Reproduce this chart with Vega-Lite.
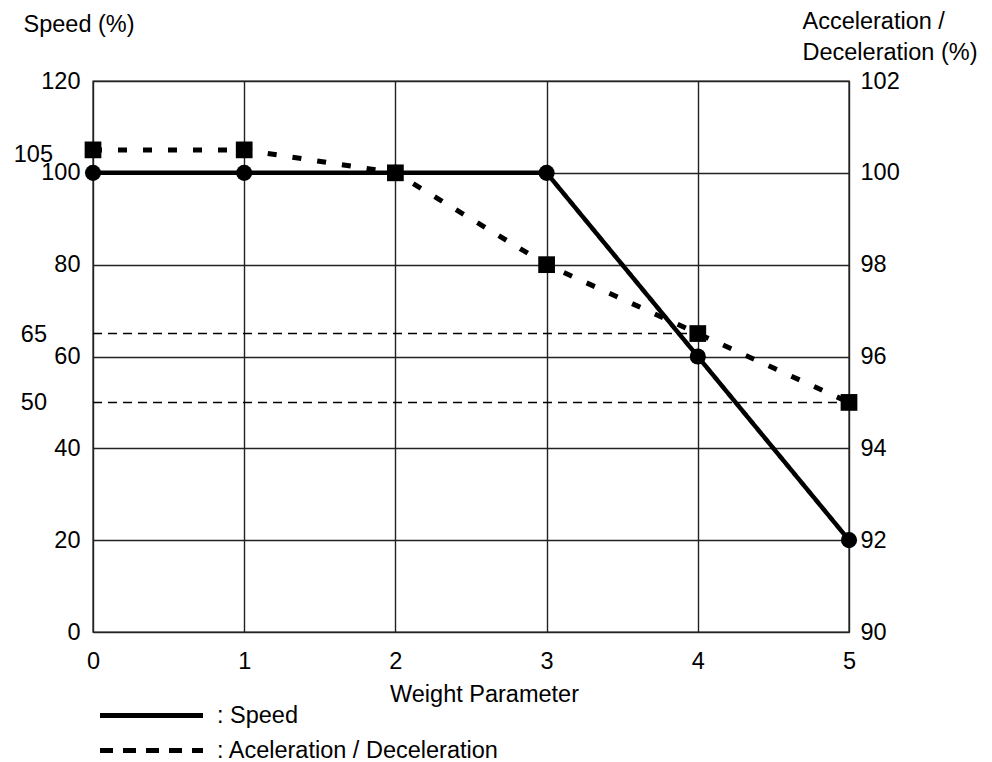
{
  "$schema": "https://vega.github.io/schema/vega-lite/v6.json",
  "width": 756,
  "height": 551,
  "autosize": {"type": "none"},
  "padding": {"left": 93, "top": 81, "right": 143, "bottom": 130},
  "background": "white",
  "config": {
    "font": "Liberation Sans",
    "view": {"stroke": "#222", "strokeWidth": 1.4},
    "axis": {
      "labelFont": "Liberation Sans",
      "labelFontSize": 23.5,
      "labelColor": "black",
      "titleFont": "Liberation Sans",
      "titleFontSize": 23.5,
      "titleFontWeight": "normal",
      "titleColor": "black",
      "ticks": false,
      "tickSize": 0,
      "domain": false,
      "gridColor": "#222",
      "gridOpacity": 1,
      "gridWidth": 1.4,
      "labelFlush": false,
      "labelOverlap": false
    },
    "line": {"strokeCap": "butt"}
  },
  "datasets": {
    "speed": [
      {"w": 0, "value": 100},
      {"w": 1, "value": 100},
      {"w": 2, "value": 100},
      {"w": 3, "value": 100},
      {"w": 4, "value": 60},
      {"w": 5, "value": 20}
    ],
    "accel": [
      {"w": 0, "value": 100.5},
      {"w": 1, "value": 100.5},
      {"w": 2, "value": 100},
      {"w": 3, "value": 98},
      {"w": 4, "value": 96.5},
      {"w": 5, "value": 95}
    ],
    "refs": [
      {"w": 0, "w2": 4, "value": 65},
      {"w": 0, "w2": 5, "value": 50}
    ],
    "marks105": [
      {"w": 0, "value": 105, "label": "105"}
    ],
    "marksRef": [
      {"w": 0, "value": 65, "label": "65"},
      {"w": 0, "value": 50, "label": "50"}
    ]
  },
  "encoding": {
    "x": {
      "field": "w",
      "type": "quantitative",
      "scale": {"domain": [0, 5], "nice": false, "zero": false},
      "axis": {
        "values": [0, 1, 2, 3, 4, 5],
        "grid": true,
        "labelBaseline": "alphabetic",
        "labelPadding": 36,
        "title": "Weight Parameter",
        "titleBaseline": "alphabetic",
        "titleAlign": "center",
        "titleX": 391,
        "titleY": 69
      }
    }
  },
  "layer": [
    {
      "encoding": {
        "y": {
          "field": "value",
          "type": "quantitative",
          "scale": {"domain": [0, 120], "nice": false, "zero": false},
          "axis": {
            "orient": "left",
            "values": [0, 20, 40, 60, 80, 100, 120],
            "grid": true,
            "labelPadding": 13,
            "labelBaseline": "middle",
            "title": "Speed (%)",
            "titleAngle": 0,
            "titleAlign": "left",
            "titleBaseline": "alphabetic",
            "titleX": -70,
            "titleY": -50,
            "encode": {
              "labels": {
                "update": {
                  "dy": {"signal": "datum.value === 0 ? -11 : datum.value === 120 ? 5 : 1"}
                }
              }
            }
          }
        }
      },
      "layer": [
        {
          "data": {"name": "refs"},
          "mark": {"type": "rule", "color": "black", "strokeWidth": 1.5, "strokeDash": [9, 6]},
          "encoding": {"x2": {"field": "w2"}}
        },
        {
          "data": {"name": "marks105"},
          "mark": {"type": "text", "align": "right", "baseline": "middle", "dx": -40, "dy": 5, "fontSize": 23.5, "font": "Liberation Sans", "color": "black", "clip": false},
          "encoding": {"text": {"field": "label"}}
        },
        {
          "data": {"name": "marksRef"},
          "mark": {"type": "text", "align": "right", "baseline": "middle", "dx": -46, "dy": 1, "fontSize": 23.5, "font": "Liberation Sans", "color": "black", "clip": false},
          "encoding": {"text": {"field": "label"}}
        },
        {
          "data": {"name": "speed"},
          "mark": {"type": "line", "color": "black", "strokeWidth": 4.5},
          "encoding": {
            "strokeDash": {
              "datum": "Speed",
              "type": "nominal",
              "scale": {"domain": ["Speed", "Aceleration / Deceleration"], "range": [[1, 0], [13, 10]]},
              "legend": {
                "orient": "none",
                "legendX": 43,
                "legendY": 619,
                "title": null,
                "padding": 0,
                "symbolType": "M-4,0H4",
                "symbolSize": 663,
                "symbolStrokeWidth": 5,
                "symbolStrokeColor": "black",
                "labelFont": "Liberation Sans",
                "labelFontSize": 23.5,
                "labelColor": "black",
                "labelOffset": 50,
                "labelLimit": 0,
                "rowPadding": 8,
                "labelExpr": "': ' + datum.label"
              }
            }
          }
        },
        {
          "data": {"name": "speed"},
          "mark": {"type": "circle", "color": "black", "size": 260, "opacity": 1}
        }
      ]
    },
    {
      "encoding": {
        "y": {
          "field": "value",
          "type": "quantitative",
          "scale": {"domain": [90, 102], "nice": false, "zero": false},
          "axis": {
            "orient": "right",
            "values": [90, 92, 94, 96, 98, 100, 102],
            "grid": false,
            "labelPadding": 11,
            "labelBaseline": "middle",
            "title": ["Acceleration /", "Deceleration (%)"],
            "titleAngle": 0,
            "titleAlign": "left",
            "titleBaseline": "alphabetic",
            "titleLineHeight": 31,
            "titleX": -47,
            "titleY": -53,
            "encode": {
              "labels": {
                "update": {
                  "dy": {"signal": "datum.value === 102 ? 5 : 1"}
                }
              }
            }
          }
        }
      },
      "layer": [
        {
          "data": {"name": "accel"},
          "mark": {"type": "line", "color": "black", "strokeWidth": 5, "strokeDash": [9, 16]}
        },
        {
          "data": {"name": "accel"},
          "mark": {"type": "square", "color": "black", "size": 280, "opacity": 1}
        }
      ]
    }
  ],
  "resolve": {"scale": {"y": "independent"}}
}
